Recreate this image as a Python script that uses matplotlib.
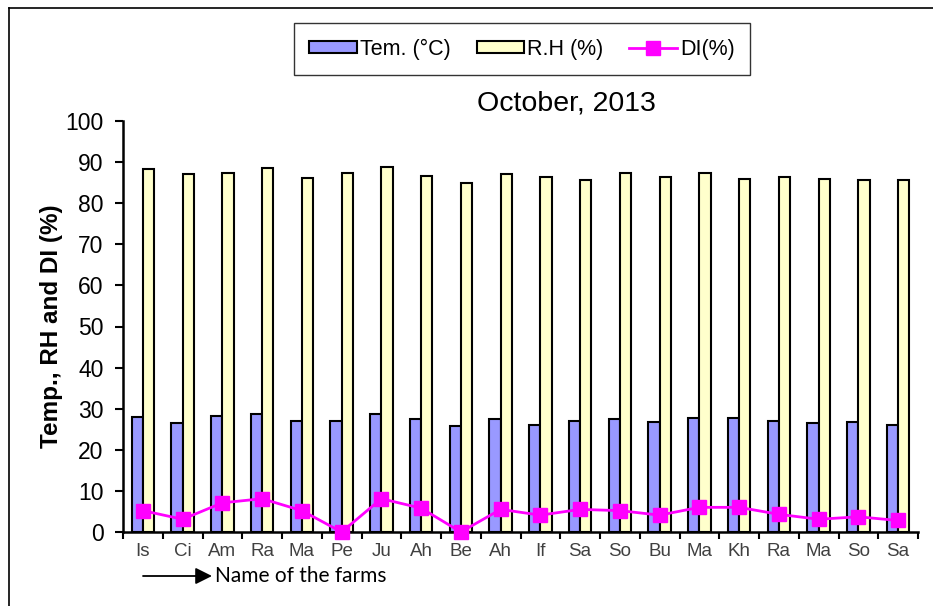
import numpy as np
import matplotlib
matplotlib.use("Agg")
import matplotlib.pyplot as plt
from matplotlib.lines import Line2D

plt.rcParams['font.family'] = ['Liberation Sans', 'DejaVu Sans']

# --- data ---
farms = ["Is", "Ci", "Am", "Ra", "Ma", "Pe", "Ju", "Ah", "Be", "Ah",
         "If", "Sa", "So", "Bu", "Ma", "Kh", "Ra", "Ma", "So", "Sa"]
temp = [27.9, 26.4, 28.2, 28.8, 27.1, 27.1, 28.8, 27.6, 25.8, 27.6,
        26.1, 27.0, 27.5, 26.7, 27.8, 27.8, 27.0, 26.4, 26.7, 26.1]
rh = [88.2, 87.1, 87.4, 88.6, 86.2, 87.4, 88.8, 86.7, 85.0, 87.1,
      86.4, 85.6, 87.3, 86.4, 87.3, 85.9, 86.4, 85.9, 85.6, 85.6]
di = [5.2, 3.1, 7.1, 8.1, 5.2, 0.0, 8.1, 5.8, 0.0, 5.5,
      4.1, 5.5, 5.2, 4.1, 6.0, 6.0, 4.3, 3.1, 3.7, 2.8]

W, H = 933, 606
fig = plt.figure(figsize=(W / 100, H / 100), dpi=100)
ax = fig.add_axes([123 / W, 1 - 532 / H, (918 - 123) / W, (532 - 121) / H])

x = np.arange(len(farms))
bw = 0.28
b1 = ax.bar(x - bw / 2, temp, bw, color='#9999FF', edgecolor='black', linewidth=1.5,
            label='Tem. (°C)', zorder=2)
b2 = ax.bar(x + bw / 2, rh, bw, color='#FFFFCC', edgecolor='black', linewidth=1.5,
            label='R.H (%)', zorder=2)
l1, = ax.plot(x, di, color='#FF00FF', linewidth=2, marker='s', markersize=10,
              label='DI(%)', zorder=3, clip_on=False)

ax.set_xlim(-0.5, len(farms) - 0.5)
ax.set_ylim(0, 100)
ax.set_yticks(np.arange(0, 101, 10))

# boundary ticks carry the marks, centre ticks carry the names
ax.set_xticks(np.arange(-0.5, len(farms), 1.0))
ax.set_xticklabels([])
ax.set_xticks(x, minor=True)
ax.set_xticklabels(farms, minor=True)
ax.tick_params(axis='x', which='major', direction='out', length=5, width=1.5)
ax.tick_params(axis='x', which='minor', length=0, pad=8, labelsize=13.5,
               labelcolor='#404040')
ax.tick_params(axis='y', direction='out', length=6, width=1.5, labelsize=16.5,
               pad=8)

for side in ['top', 'right']:
    ax.spines[side].set_visible(False)
for side in ['left', 'bottom']:
    ax.spines[side].set_linewidth(1.8)

ax.set_ylabel("Temp., RH and DI (%)", fontsize=17.5, fontweight='bold', labelpad=2)

fig.text(566 / W, 1 - 103 / H, "October, 2013", fontsize=20.5, ha='center', va='center')

leg = fig.legend([b1, b2, l1], ['Tem. (°C)', 'R.H (%)', 'DI(%)'],
                 loc='center', bbox_to_anchor=(522 / W, 1 - 49 / H), ncol=3,
                 fontsize=15.5, frameon=True, fancybox=False, edgecolor='black',
                 handlelength=2.2, handleheight=0.45, columnspacing=1.2,
                 handletextpad=0.15, borderpad=0.7)
leg.get_frame().set_linewidth(1.0)

# "Name of the farms" with arrow
ax.annotate('', xy=(212 / W, 1 - 576 / H), xytext=(143 / W, 1 - 576 / H),
            xycoords='figure fraction', textcoords='figure fraction',
            arrowprops=dict(arrowstyle='-|>', color='black', lw=1.3,
                            mutation_scale=25, shrinkA=0, shrinkB=0))
fig.text(215 / W, 1 - 576 / H, "Name of the farms", fontsize=15, family='Lato',
         ha='left', va='center')

# figure border (left and top edges visible)
fig.add_artist(Line2D([9 / W, 9 / W], [0, 1 - 8 / H], color='black', lw=1.2,
                      transform=fig.transFigure))
fig.add_artist(Line2D([9 / W, 1], [1 - 8 / H, 1 - 8 / H], color='black', lw=1.2,
                      transform=fig.transFigure))

fig.savefig("out.png", dpi=100)
